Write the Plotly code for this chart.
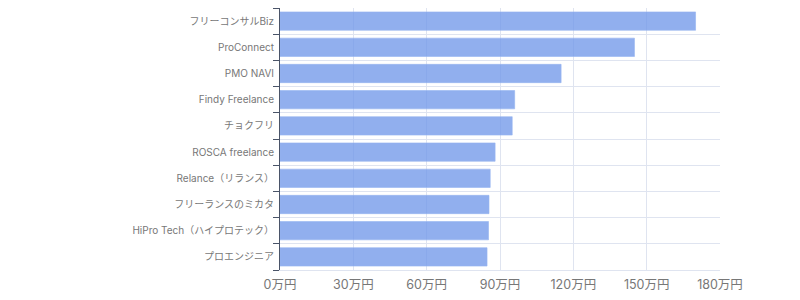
import plotly.graph_objects as go

services = ["フリーコンサルBiz", "ProConnect", "PMO NAVI", "Findy Freelance", "チョクフリ",
            "ROSCA freelance", "Relance（リランス）", "フリーランスのミカタ",
            "HiPro Tech（ハイプロテック）", "プロエンジニア"]
values = [170, 145, 115, 96, 95, 88, 86, 85.5, 85.3, 84.7]
x_ticks = [0, 30, 60, 90, 120, 150, 180]
x_tick_labels = [f"{v}万円" for v in x_ticks]

fig = go.Figure(go.Bar(
    x=values, y=services, orientation="h",
    marker=dict(color="rgba(110,150,233,0.76)",
                line=dict(color="rgba(150,180,240,0.6)", width=1)),
))
fig.update_layout(
    width=800, height=300,
    margin=dict(l=280, r=80, t=8, b=30),
    plot_bgcolor="white", paper_bgcolor="white",
    bargap=0.3, showlegend=False,
    font=dict(family="Inter, Noto Sans CJK JP, sans-serif", color="#777777"),
)
fig.update_xaxes(range=[0, 180], tickvals=x_ticks, ticktext=x_tick_labels,
                 showgrid=True, gridcolor="#dfe4f0", gridwidth=1,
                 showline=True, linecolor="#dfe4f0", linewidth=1,
                 zeroline=False, tickfont=dict(size=12.5, color="#777777"), ticks="",
                 ticklabelstandoff=3)
fig.update_yaxes(categoryorder="array", categoryarray=services[::-1],
                 tickson="boundaries", showgrid=True, gridcolor="#dfe4f0", gridwidth=1,
                 showline=True, linecolor="#4a5468", linewidth=1,
                 ticks="outside", ticklen=6, tickcolor="#4a5468",
                 tickfont=dict(size=10, color="#777777"), ticklabelstandoff=3)
fig.write_html("out.html")
